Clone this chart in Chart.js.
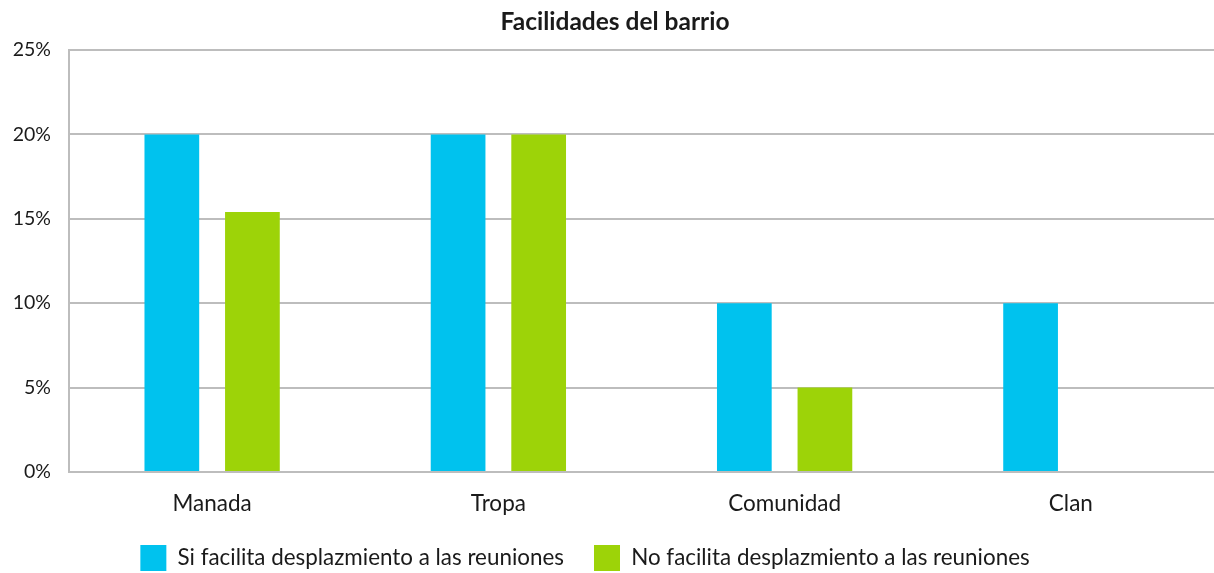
<!DOCTYPE html>
<html>
<head>
<meta charset="utf-8">
<script src="https://cdn.jsdelivr.net/npm/chart.js@4/dist/chart.umd.min.js"></script>
<style>
  html, body { margin: 0; padding: 0; background: #ffffff; overflow: hidden; }
  #wrap { width: 1214px; height: 573px; position: relative; }
</style>
</head>
<body>
<div id="wrap"><canvas id="c" width="1214" height="573"></canvas></div>
<script>
const chartTitle = "Facilidades del barrio";
const categories = ["Manada", "Tropa", "Comunidad", "Clan"];
const seriesNames = ["Si facilita desplazmiento a las reuniones", "No facilita desplazmiento a las reuniones"];
const siFacilita = [20, 20, 10, 10];
const noFacilita = [15.4, 20, 5, 0];
const yTicks = [0, 5, 10, 15, 20, 25];

const FONT = "Lato, 'Open Sans', sans-serif";
const TEXT = "#1a1a1a";
const GRID = "#bdbdbd";

const shiftPlugin = {
  id: 'shiftBoxes',
  afterLayout(chart) {
    const lg = chart.legend;
    if (lg) { lg.left -= 22; lg.right -= 22; lg.top = 515; lg.bottom = 610; }
    const t = chart.titleBlock;
    if (t) { t.left += 8; t.right += 8; }
  }
};

new Chart(document.getElementById('c'), {
  type: 'bar',
  data: {
    labels: categories,
    datasets: [
      { label: seriesNames[0], data: siFacilita, backgroundColor: '#00c2ee' },
      { label: seriesNames[1], data: noFacilita, backgroundColor: '#9dd308' }
    ]
  },
  plugins: [shiftPlugin],
  options: {
    responsive: false,
    animation: false,
    devicePixelRatio: 1,
    layout: { padding: { left: 0, right: 0, top: 0, bottom: 0 } },
    datasets: { bar: { categoryPercentage: 0.563, barPercentage: 0.679 } },
    plugins: {
      title: {
        display: true,
        text: chartTitle,
        color: TEXT,
        font: { family: FONT, size: 24.5, weight: 'bold', lineHeight: 1.2 },
        padding: { top: 7, bottom: 13.6 }
      },
      legend: {
        position: 'bottom',
        maxHeight: 38,
        labels: {
          color: TEXT,
          font: { family: FONT, size: 22.4 },
          boxWidth: 26,
          boxHeight: 26,
          padding: 30
        }
      },
      tooltip: { enabled: false }
    },
    scales: {
      x: {
        grid: { display: false, drawTicks: false },
        border: { display: true, color: GRID, width: 2 },
        ticks: { color: TEXT, font: { family: FONT, size: 22.5 }, padding: 18, maxRotation: 0 },
        afterFit(scale) { scale.height = 63; scale.paddingLeft = 0; scale.paddingRight = 0; }
      },
      y: {
        min: 0, max: 25,
        afterBuildTicks(scale) { scale.ticks = yTicks.map(v => ({ value: v })); },
        grid: { color: GRID, lineWidth: 2, drawTicks: false },
        border: { display: true, color: GRID, width: 2 },
        ticks: {
          color: TEXT,
          font: { family: FONT, size: 19.5 },
          padding: 18,
          callback: (v) => v + '%'
        },
        afterFit(scale) { scale.width = 69; }
      }
    }
  }
});
</script>
</body>
</html>
